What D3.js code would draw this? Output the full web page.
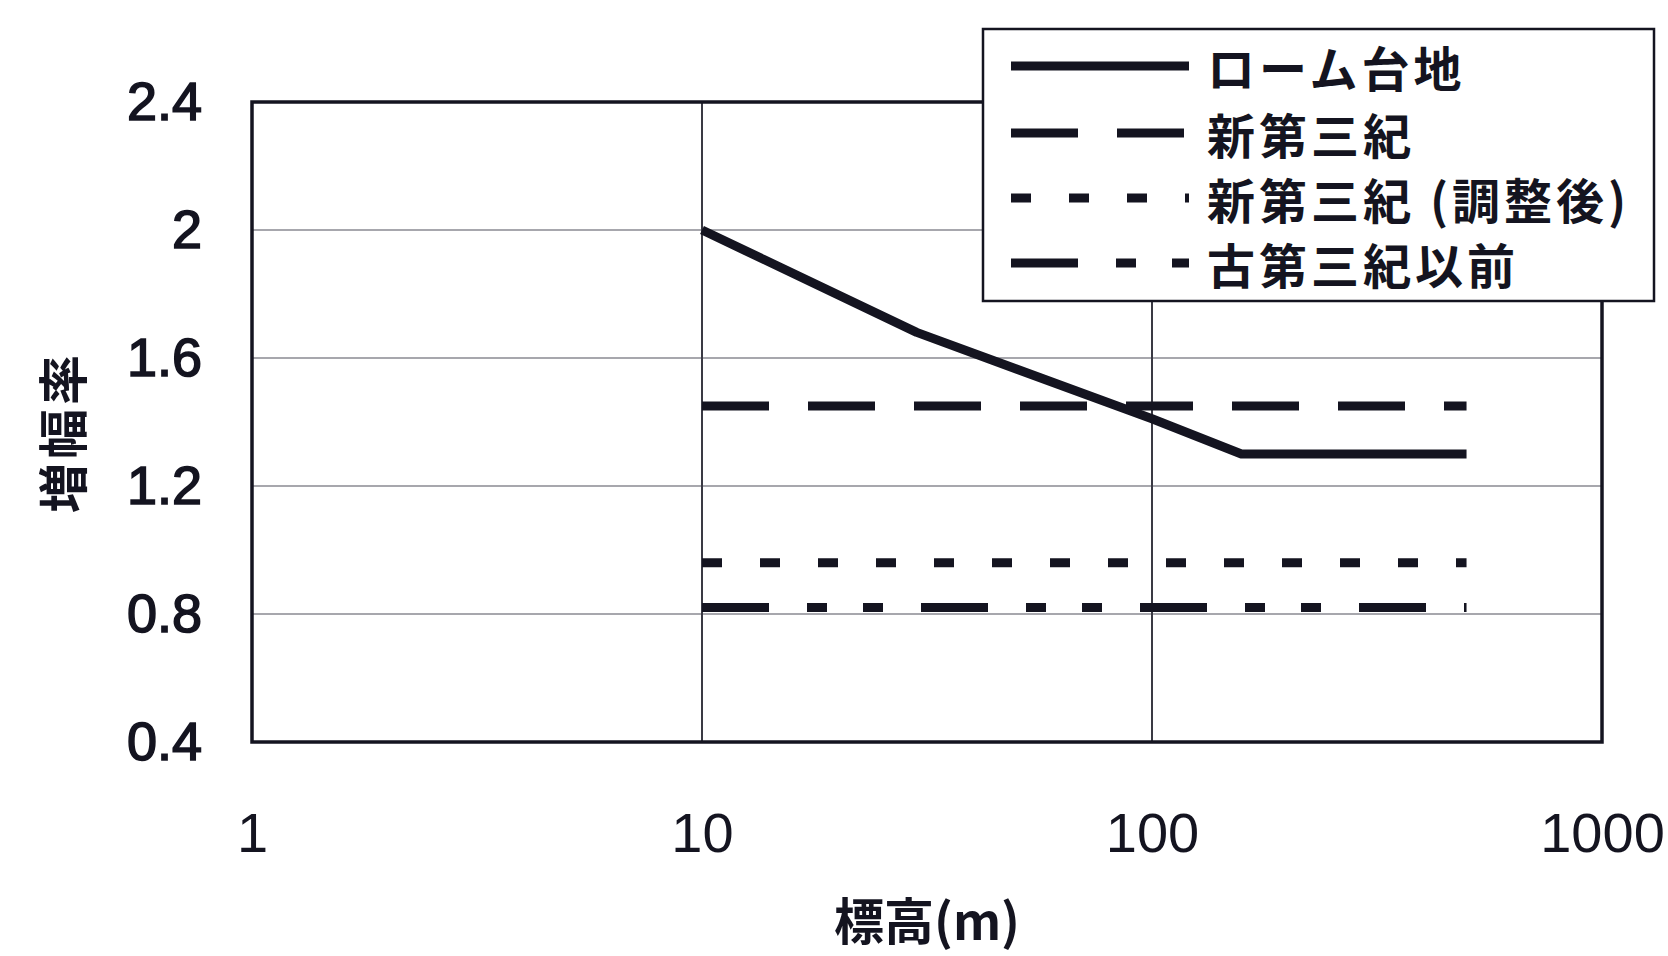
<!DOCTYPE html>
<html>
<head>
<meta charset="utf-8">
<script src="https://cdn.jsdelivr.net/npm/d3@7"></script>
<style>
  html, body { margin: 0; padding: 0; background: #fff; }
  svg { display: block; }
</style>
</head>
<body>
<div id="chart"></div>
<script>
/* DATA */
const xTicks = [1, 10, 100, 1000];
const yTicks = [0.4, 0.8, 1.2, 1.6, 2.0, 2.4];
const yTickLabels = ["0.4", "0.8", "1.2", "1.6", "2", "2.4"];
const seriesNames = ["ローム台地", "新第三紀", "新第三紀 (調整後)", "古第三紀以前"];

const loamElev = [10, 30, 100, 158, 500];
const loamValues = [2.0, 1.68, 1.41, 1.30, 1.30];
const neogeneElev = [10, 500];
const neogeneValues = [1.45, 1.45];
const adjustedElev = [10, 500];
const adjustedValues = [0.96, 0.96];
const paleogeneElev = [10, 500];
const paleogeneValues = [0.82, 0.82];

/* CONSTANTS AND GLOBALS */
const width = 1668,
  height = 956,
  margin = ({top: 102, right: 66, bottom: 214, left: 252});

const ink = "#141420";
const dashes = ["none", "67,39", "20,38", "67,38,20,36,20,38"];

const svg = d3.select("#chart")
  .append("svg")
  .attr("width", width)
  .attr("height", height);

const x = d3.scaleLog()
  .domain([1, 1000])
  .range([margin.left, width - margin.right]);

const y = d3.scaleLinear()
  .domain([0.4, 2.4])
  .range([height - margin.bottom, margin.top]);

// grid lines
svg.append("g")
  .selectAll("line.hgrid")
  .data(yTicks.filter(d => d > 0.4 && d < 2.4))
  .join("line")
  .attr("class", "hgrid")
  .attr("x1", x(1)).attr("x2", x(1000))
  .attr("y1", d => y(d)).attr("y2", d => y(d))
  .attr("stroke", "#8a8a92")
  .attr("stroke-width", 1.6);

svg.append("g")
  .selectAll("line.vgrid")
  .data(xTicks.filter(d => d > 1 && d < 1000))
  .join("line")
  .attr("class", "vgrid")
  .attr("x1", d => x(d)).attr("x2", d => x(d))
  .attr("y1", y(0.4)).attr("y2", y(2.4))
  .attr("stroke", "#3a3a44")
  .attr("stroke-width", 2);

// plot border
svg.append("rect")
  .attr("x", x(1))
  .attr("y", y(2.4))
  .attr("width", x(1000) - x(1))
  .attr("height", y(0.4) - y(2.4))
  .attr("fill", "none")
  .attr("stroke", ink)
  .attr("stroke-width", 3.5);

// axes (labels only)
const xAxis = d3.axisBottom(x)
  .tickValues(xTicks)
  .tickFormat(d3.format("d"))
  .tickSize(0)
  .tickPadding(0);

const yAxis = d3.axisLeft(y)
  .tickValues(yTicks)
  .tickFormat((d, i) => yTickLabels[i])
  .tickSize(0)
  .tickPadding(50);

svg.append("g")
  .attr("transform", `translate(0,${y(0.4) + 92})`)
  .call(xAxis)
  .call(g => g.select(".domain").remove())
  .selectAll("text")
  .attr("dy", "0.32em")
  .attr("y", 0)
  .style("font-family", "'Liberation Sans', Arial, sans-serif")
  .style("font-size", "56px")
  .attr("fill", ink);

svg.append("g")
  .attr("transform", `translate(${x(1)},0)`)
  .call(yAxis)
  .call(g => g.select(".domain").remove())
  .selectAll("text")
  .style("font-family", "'Liberation Sans', Arial, sans-serif")
  .style("font-size", "54px")
  .attr("fill", ink)
  .attr("stroke", ink)
  .attr("stroke-width", 1.6);

// series
const series = [
  {elev: loamElev, vals: loamValues},
  {elev: neogeneElev, vals: neogeneValues},
  {elev: adjustedElev, vals: adjustedValues},
  {elev: paleogeneElev, vals: paleogeneValues}
];

const line = d3.line()
  .x(d => x(d[0]))
  .y(d => y(d[1]));

svg.append("g")
  .selectAll("path.series")
  .data(series)
  .join("path")
  .attr("class", "series")
  .attr("d", d => line(d.elev.map((e, i) => [e, d.vals[i]])))
  .attr("fill", "none")
  .attr("stroke", ink)
  .attr("stroke-width", 9)
  .attr("stroke-linejoin", "round")
  .attr("stroke-dasharray", (d, i) => dashes[i]);

// axis titles
svg.append("text")
  .text("標高(m)")
  .attr("x", (x(1) + x(1000)) / 2)
  .attr("y", 940)
  .attr("text-anchor", "middle")
  .style("font-family", "'Noto Sans CJK JP', sans-serif")
  .style("font-size", "50px")
  .style("font-weight", "bold")
  .attr("fill", ink);

svg.append("text")
  .text("増幅率")
  .attr("transform", "translate(60,432) rotate(-90)")
  .attr("text-anchor", "middle")
  .attr("dominant-baseline", "central")
  .style("font-family", "'Noto Sans CJK JP', sans-serif")
  .style("font-size", "50px")
  .style("font-weight", "bold")
  .style("letter-spacing", "4px")
  .attr("fill", ink);

// legend
const legend = svg.append("g");

legend.append("rect")
  .attr("x", 983)
  .attr("y", 29)
  .attr("width", 671)
  .attr("height", 272)
  .attr("fill", "#fff")
  .attr("stroke", ink)
  .attr("stroke-width", 2.5);

const rowY = [66, 133, 198, 263];

const rows = legend.selectAll("g.row")
  .data(seriesNames)
  .join("g")
  .attr("class", "row")
  .attr("transform", (d, i) => `translate(0,${rowY[i]})`);

rows.append("line")
  .attr("x1", 1011)
  .attr("x2", 1189)
  .attr("stroke", ink)
  .attr("stroke-width", 9)
  .attr("stroke-dasharray", (d, i) => dashes[i]);

rows.append("text")
  .text(d => d)
  .attr("x", 1207)
  .attr("dominant-baseline", "central")
  .style("font-family", "'Noto Sans CJK JP', sans-serif")
  .style("font-size", "48px")
  .style("font-weight", "bold")
  .style("letter-spacing", "4px")
  .attr("fill", ink);
</script>
</body>
</html>
